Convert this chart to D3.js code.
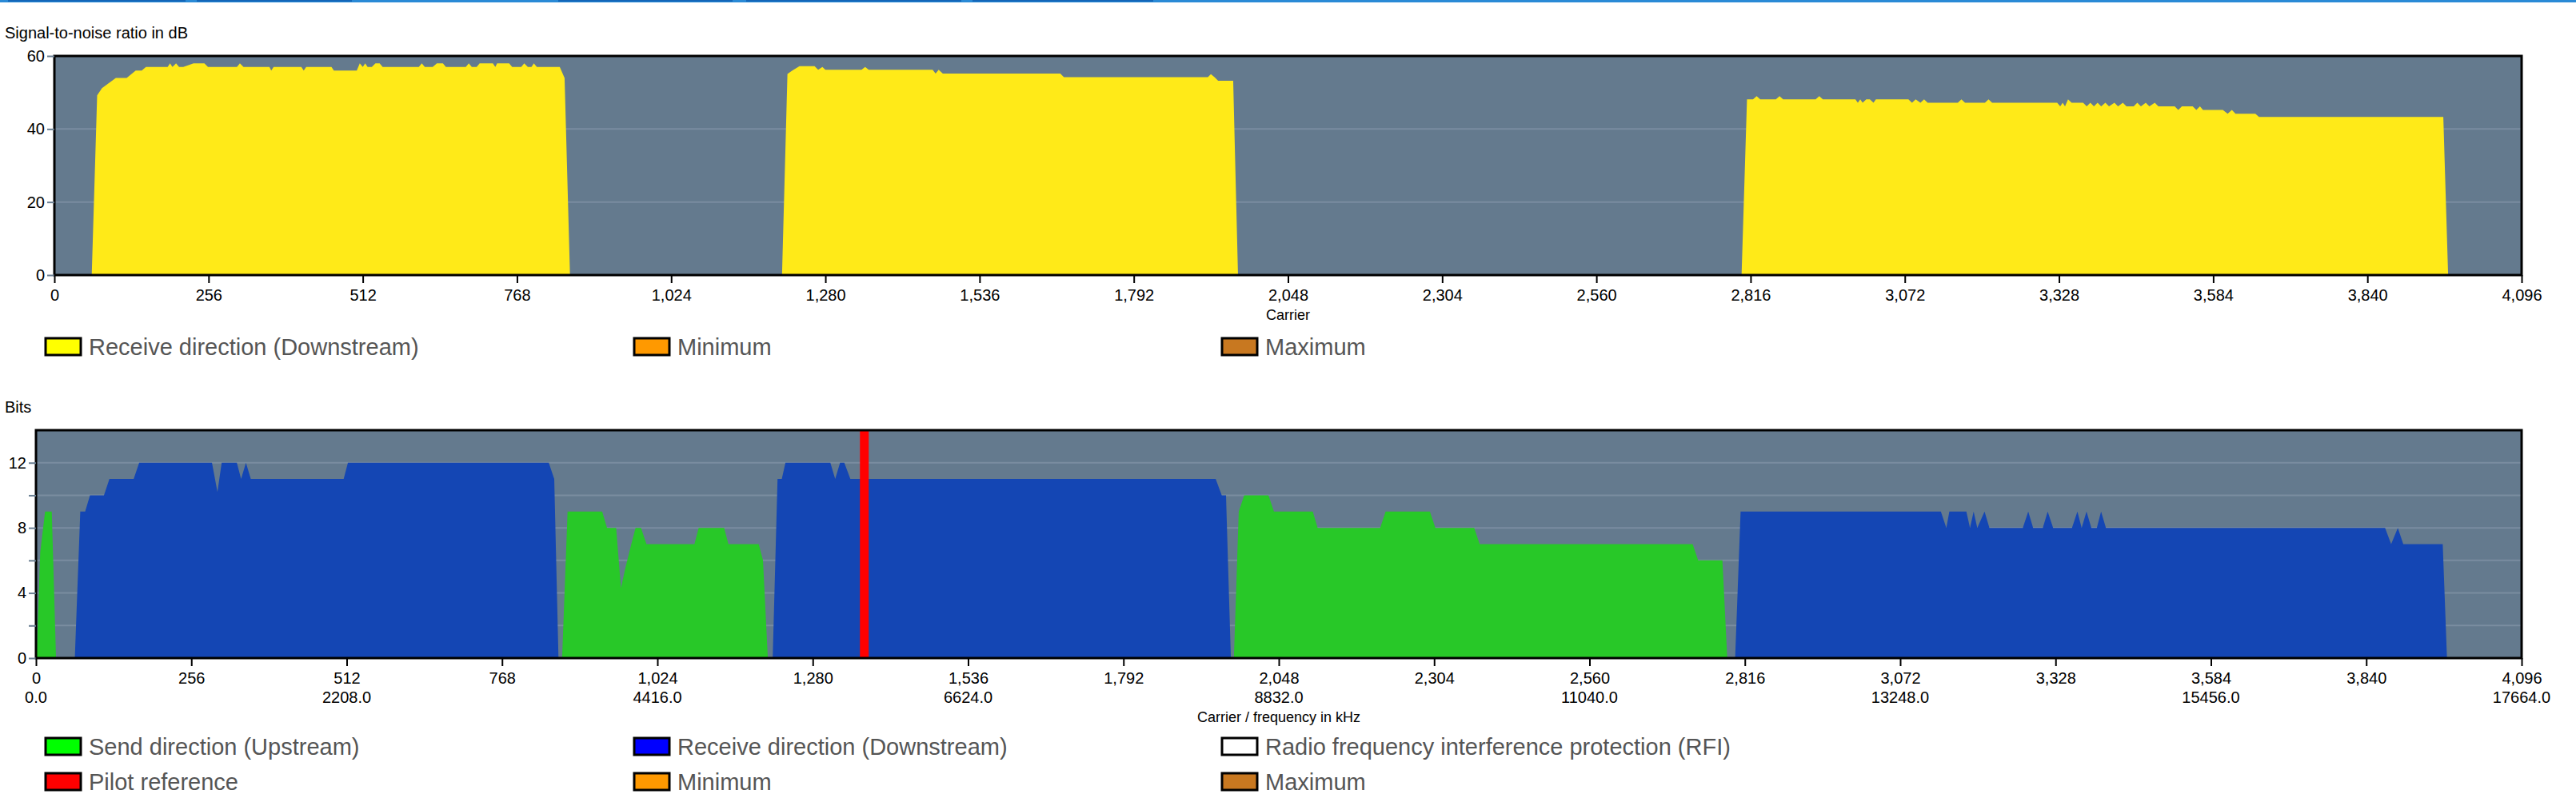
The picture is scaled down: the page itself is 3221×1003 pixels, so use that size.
<!DOCTYPE html>
<html><head><meta charset="utf-8">
<script src="https://cdn.jsdelivr.net/npm/d3@7"></script>
<style>body{margin:0;background:#fff}svg{display:block}text{font-family:"Liberation Sans",Arial,sans-serif}</style>
</head><body><svg id="c" width="3221" height="1003"></svg>
<script>
// ---- data ----
const snrTicksX = [0,256,512,768,1024,1280,1536,1792,2048,2304,2560,2816,3072,3328,3584,3840,4096];
const snrTicksY = [0,20,40,60];
const bitsTicksY = [0,4,8,12];
const bitsMinorY = [2,6,10];
const freqPerCarrier = 4.3125;
const snrBand1 = [[62,0],[71,49.2],[79,51.2],[102,54],[120,54],[135,56],[145,56],[152,57],[188,57],[192,58],[196,57],[202,58],[207,57],[214,57],[231,58],[249,58],[255,57],[303,57],[308,58],[314,57],[357,57],[360,56],[364,57],[410,57],[414,56],[418,57],[460,57],[464,56],[502,56],[507,58],[512,57],[516,58],[520,57],[527,57],[533,58],[540,58],[545,57],[605,57],[610,58],[615,57],[628,57],[635,58],[645,58],[650,57],[683,57],[688,58],[693,57],[701,57],[706,58],[728,58],[732,57],[735,58],[755,58],[760,57],[775,57],[780,58],[786,57],[792,57],[796,58],[801,57],[830,57],[839,57],[847,54],[856,0]];
const snrBand2 = [[1208,0],[1217,55.1],[1225,56],[1237,57.2],[1262,57.2],[1268,56.2],[1275,57],[1280,56.2],[1340,56.2],[1346,57],[1352,56.2],[1458,56.2],[1463,55.2],[1468,56.2],[1475,55.2],[1670,55.2],[1676,54.2],[1915,54.2],[1920,55],[1926,54.2],[1932,53.2],[1957,53.2],[1965,0]];
const snrBand3 = [[2801,0],[2810,48.1],[2820,48.1],[2826,49],[2832,48.1],[2858,48.1],[2864,49],[2870,48.1],[2924,48.1],[2930,49],[2936,48.1],[2990,48.1],[2994,47.2],[2998,48.1],[3002,47.2],[3008,48.1],[3014,48.1],[3020,47.2],[3024,48.1],[3078,48.1],[3084,47.2],[3090,48.1],[3098,47.2],[3104,48.1],[3110,47.2],[3160,47.2],[3166,48.1],[3172,47.2],[3205,47.2],[3211,48.1],[3217,47.2],[3325,47.2],[3330,46.2],[3334,47.2],[3338,46.2],[3343,48.1],[3349,47.2],[3368,47.2],[3374,46.2],[3380,47.2],[3386,46.2],[3392,47.2],[3398,46.2],[3405,47.2],[3411,46.2],[3420,47.2],[3426,46.2],[3434,47.2],[3440,46.2],[3452,46.2],[3458,47.2],[3464,46.2],[3472,47.2],[3478,46.2],[3487,47.2],[3493,46.2],[3520,46.2],[3526,45.2],[3532,46.2],[3550,46.2],[3556,45.2],[3562,46.2],[3567,45.2],[3600,45.2],[3608,44.2],[3615,45.2],[3621,44.2],[3654,44.2],[3660,43.3],[3660,43.3],[3966,43.3],[3974,0]].map(d=>d);
const upBand1 = [[1,0],[7,6.5],[15,9],[26,9],[33,0]];
const upBand2 = [[867,0],[876,9],[933,9],[941,8],[956,8],[964,4.3],[971,5.5],[981,7],[988,8],[997,8],[1006,7],[1085,7],[1092,8],[1134,8],[1141,7],[1191,7],[1198,6],[1206,0]];
const upBand3 = [[1974,0],[1982,9],[1991,10],[2031,10],[2040,9],[2104,9],[2112,8],[2215,8],[2224,9],[2297,9],[2306,8],[2370,8],[2379,7],[2730,7],[2739,6],[2779,6],[2787,0]];
const downBand1 = [[64,0],[73,9],[81,9],[89,10],[112,10],[121,11],[161,11],[170,12],[290,12],[299,10.2],[306,12],[331,12],[338,11],[346,12],[354,11],[507,11],[514,12],[845,12],[854,11],[861,0]];
const downBand2 = [[1214,0],[1222,11],[1229,11],[1235,12],[1309,12],[1317,11],[1325,12],[1332,12],[1342,11],[1944,11],[1954,10],[1961,10],[1969,0]];
const downBand3 = [[2800,0],[2809,9],[3139,9],[3148,8],[3153,9],[3181,9],[3187,8],[3193,9],[3199,8],[3211,9],[3219,8],[3274,8],[3283,9],[3291,8],[3307,8],[3315,9],[3324,8],[3355,8],[3364,9],[3371,8],[3379,9],[3387,8],[3396,8],[3403,9],[3411,8],[3871,8],[3881,7],[3892,8],[3901,7],[3966,7],[3973,0]];
const pilotCarrier = 1365;
const snrLegend = [["Receive direction (Downstream)","#ffff00"],["Minimum","#ff9900"],["Maximum","#c87820"]];
const bitsLegend = [["Send direction (Upstream)","#00ff00"],["Receive direction (Downstream)","#0000ff"],["Radio frequency interference protection (RFI)","#ffffff"],["Pilot reference","#ff0000"],["Minimum","#ff9900"],["Maximum","#c87820"]];

// ---- drawing ----
const svg = d3.select("#c");
const BG="#647a8e", GRID="#7a8da0";
// header strip
svg.append("rect").attr("x",0).attr("y",0).attr("width",3221).attr("height",3).attr("fill","#2a8ad6");
[[10,232],[246,440],[698,916],[933,1202],[1216,1442]].forEach(s=>svg.append("rect").attr("x",s[0]).attr("y",0).attr("width",s[1]-s[0]).attr("height",2).attr("fill","#1466b8"));

function panel(o){
  const x=d3.scaleLinear().domain([0,4096]).range([o.left,o.right]);
  const y=d3.scaleLinear().domain([0,o.ymax]).range([o.bottom,o.top]);
  svg.append("rect").attr("x",o.left).attr("y",o.top).attr("width",o.right-o.left).attr("height",o.bottom-o.top).attr("fill",BG);
  o.grid.forEach(v=>svg.append("line").attr("x1",o.left).attr("x2",o.right).attr("y1",y(v)).attr("y2",y(v)).attr("stroke",GRID).attr("stroke-width",2));
  const area=d3.area().x(d=>x(d[0])).y0(y(0)).y1(d=>y(d[1]));
  o.series.forEach(s=>svg.append("path").datum(s[0]).attr("d",area).attr("fill",s[1]));
  if(o.pilot!=null) svg.append("line").attr("x1",x(o.pilot)).attr("x2",x(o.pilot)).attr("y1",o.top).attr("y2",o.bottom).attr("stroke","#ff0000").attr("stroke-width",11);
  svg.append("rect").attr("x",o.left).attr("y",o.top).attr("width",o.right-o.left).attr("height",o.bottom-o.top).attr("fill","none").attr("stroke","#000").attr("stroke-width",3);
  // y axis
  const ya=svg.append("g").attr("transform",`translate(${o.left},0)`).call(d3.axisLeft(y).tickValues(o.yticks.concat(o.yminor||[])).tickSize(9).tickFormat(v=>o.yticks.includes(v)?v:""));
  ya.select(".domain").remove();
  ya.selectAll("line").attr("stroke",o.tickColor).attr("stroke-width",2);
  ya.selectAll("text").attr("font-size",20).attr("fill","#000").attr("font-family","Liberation Sans, Arial");
  // x axis
  const xa=svg.append("g").attr("transform",`translate(0,${o.bottom})`).call(d3.axisBottom(x).tickValues(snrTicksX).tickSize(10).tickPadding(8));
  xa.select(".domain").remove();
  xa.selectAll("line").attr("stroke","#000").attr("stroke-width",2);
  xa.selectAll("text").attr("font-size",20).attr("fill","#000").attr("font-family","Liberation Sans, Arial");
  if(o.freq){
    snrTicksX.filter((d,i)=>i%2===0).forEach(c=>svg.append("text").attr("x",x(c)).attr("y",o.bottom+56).attr("text-anchor","middle").attr("font-size",20).text((c*freqPerCarrier).toFixed(1)));
  }
  svg.append("text").attr("x",(o.left+o.right)/2).attr("y",o.xlabelY).attr("text-anchor","middle").attr("font-size",18).text(o.xlabel);
  svg.append("text").attr("x",6).attr("y",o.titleY).attr("font-size",20).text(o.title);
  o.legend.forEach((l,i)=>{
    const cx=[57,793,1528][i%3], cy=o.legendY+Math.floor(i/3)*44;
    svg.append("rect").attr("x",cx).attr("y",cy).attr("width",44).attr("height",21).attr("fill",l[1]).attr("stroke","#000").attr("stroke-width",3);
    svg.append("text").attr("x",cx+54).attr("y",cy+21).attr("font-size",29).attr("fill","#555").text(l[0]);
  });
}
panel({left:68,right:3153,top:70,bottom:344,ymax:60,grid:[20,40],yticks:snrTicksY,tickColor:"#6a7f93",
  series:[[snrBand1,"#ffea18"],[snrBand2,"#ffea18"],[snrBand3,"#ffea18"]],
  xlabel:"Carrier",xlabelY:400,title:"Signal-to-noise ratio in dB",titleY:48,legend:snrLegend,legendY:423});
panel({left:45,right:3153,top:538,bottom:823,ymax:14,grid:[2,4,6,8,10,12],yticks:bitsTicksY,yminor:bitsMinorY,tickColor:"#6a7f93",
  series:[[upBand1,"#28c828"],[downBand1,"#1446b4"],[upBand2,"#28c828"],[downBand2,"#1446b4"],[upBand3,"#28c828"],[downBand3,"#1446b4"]],
  pilot:pilotCarrier,freq:true,
  xlabel:"Carrier / frequency in kHz",xlabelY:903,title:"Bits",titleY:516,legend:bitsLegend,legendY:923});
</script></body></html>
